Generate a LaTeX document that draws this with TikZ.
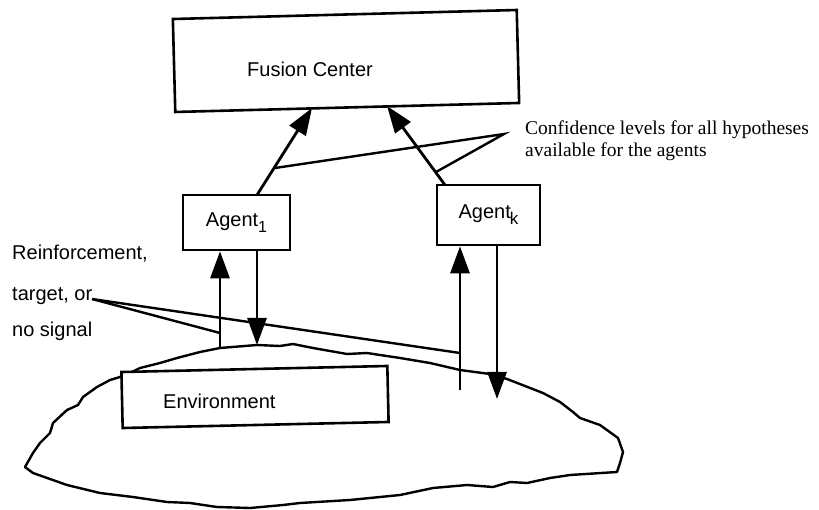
\documentclass[tikz,border=0pt]{standalone}
\usepackage{fontspec}
\setmainfont{Liberation Sans}
\newfontfamily\seriffont{Liberation Serif}
\usetikzlibrary{arrows.meta}
\begin{document}
\begin{tikzpicture}[x=1pt,y=-1pt,
  box/.style={draw,line width=2.6pt,fill=white,inner sep=0pt},
  arr/.style={line width=2.8pt,-{Triangle[length=27pt,width=19pt]}},
  thinline/.style={line width=2.4pt},
  lbl/.style={anchor=base west,inner sep=0pt,font=\fontsize{20}{20}\selectfont},
  slbl/.style={anchor=base west,inner sep=0pt,font=\seriffont\fontsize{19.5}{19.5}\selectfont},
  agentfont/.style={font=\fontsize{20}{20}\selectfont},
]
\useasboundingbox (0,0) rectangle (819,510);

% environment blob
\draw[thinline, line join=round]
 (220,348) -- (257,345) -- (280,346) -- (293,344) -- (313,348) -- (330,351) -- (347,354)
 -- (367,353) -- (380,355) -- (400,358) -- (430,363) -- (460,370) -- (490,374) -- (507,379)
 -- (543,393) -- (560,402) -- (573,412) -- (580,418) -- (600,425) -- (618,438) -- (623,452)
 -- (620,463) -- (617,472) -- (570,475) -- (550,478) -- (527,483) -- (510,482) -- (493,487)
 -- (467,485) -- (433,488) -- (400,495) -- (350,500) -- (300,503) -- (283,505) -- (250,508)
 -- (217,507) -- (190,503) -- (167,502) -- (133,497) -- (100,493) -- (67,485) -- (33,473)
 -- (25,467) -- (33,453) -- (40,443) -- (50,433) -- (53,423) -- (67,410) -- (78,405)
 -- (83,397) -- (97,387) -- (110,380) -- (120,377) -- (130,373) -- (140,368) -- (160,363)
 -- (177,358) -- (200,352) -- cycle;

% boxes
\node[box, minimum width=344pt, minimum height=93pt, rotate=1.5] (fc) at (346,61) {};
\node[lbl] (fctext) at (247,77) {Fusion Center};

\node[box, minimum width=266pt, minimum height=56pt, rotate=1.3] (env) at (255,397) {};
\node[lbl] (envtext) at (163,408) {Environment};

\node[box, agentfont, minimum width=107pt, minimum height=55pt] (a1) at (236.5,222.5)
  {Agent\raisebox{-6pt}{\fontsize{16}{16}\selectfont 1}};
\node[box, agentfont, minimum width=103pt, minimum height=60pt] (ak) at (488.5,215)
  {Agent\kern-1pt\raisebox{-6pt}{\fontsize{17}{17}\selectfont k}};

% arrows to fusion center
\coordinate (f1) at (312,108);
\coordinate (f2) at (387,106);
\coordinate (a1top) at (257,195);
\coordinate (aktop) at (445,185);
\draw[arr] (a1top) -- (f1);
\draw[arr] (aktop) -- (f2);

% confidence callout
\coordinate (capex) at (504,134);
\coordinate (cl) at (275,168);
\coordinate (cr) at (436,172);
\draw[thinline, line join=miter] (cl) -- (capex) -- (cr);
\node[slbl] (conf1) at (525,135) {Confidence levels for all hypotheses};
\node[slbl] (conf2) at (525,157) {available for the agents};

% agent1 <-> environment
\coordinate (e1u) at (220,348);
\coordinate (e1d) at (257,345);
\draw[arr] (e1u) -- (e1u |- a1.south);
\draw[arr] (a1.south -| e1d) -- (e1d);

% agentk <-> environment
\coordinate (eku) at (460,390);
\coordinate (ekd) at (497,399);
\draw[arr] (eku) -- (eku |- ak.south);
\draw[arr] (ak.south -| ekd) -- (ekd);

% reinforcement callout
\node[lbl] (r1) at (12,260) {Reinforcement,};
\node[lbl] (r2) at (12,301) {target, or};
\node[lbl] (r3) at (12,337) {no signal};
\coordinate (rc) at (92,299);
\coordinate (rl) at (220,333);
\coordinate (rr) at (460,353);
\draw[thinline] (rc) -- (rl);
\draw[thinline] (rc) -- (rr);
\end{tikzpicture}
\end{document}
